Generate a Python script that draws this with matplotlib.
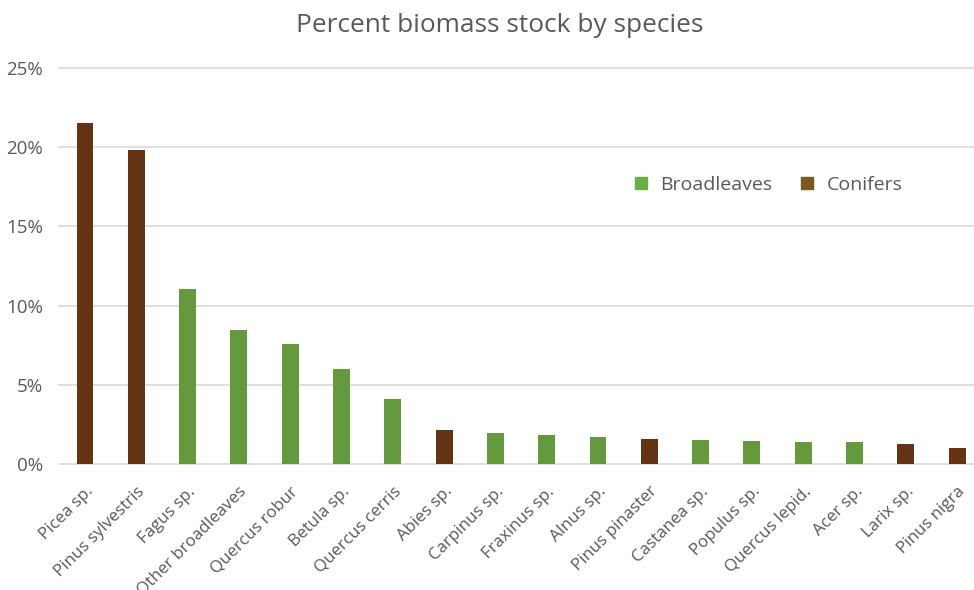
import matplotlib
matplotlib.use("Agg")
import matplotlib.pyplot as plt
from matplotlib.lines import Line2D
from matplotlib.ticker import FuncFormatter

species = ["Picea sp.", "Pinus sylvestris", "Fagus sp.", "Other broadleaves", "Quercus robur",
           "Betula sp.", "Quercus cerris", "Abies sp.", "Carpinus sp.", "Fraxinus sp.",
           "Alnus sp.", "Pinus pinaster", "Castanea sp.", "Populus sp.", "Quercus lepid.",
           "Acer sp.", "Larix sp.", "Pinus nigra"]
percent = [21.5, 19.8, 11.05, 8.46, 7.55, 6.02, 4.12, 2.15, 1.97, 1.86,
           1.70, 1.57, 1.52, 1.46, 1.42, 1.36, 1.29, 1.0]
group = ["C", "C", "B", "B", "B", "B", "B", "C", "B", "B",
         "B", "C", "B", "B", "B", "B", "C", "C"]
yticks = [0, 5, 10, 15, 20, 25]

BROWN = "#643314"
GREEN = "#65993D"
LEG_GREEN = "#6AAD45"
LEG_BROWN = "#7B5A22"
TXT = "#595959"

plt.rcParams['font.family'] = ['Open Sans', 'DejaVu Sans']

fig = plt.figure(figsize=(9.74, 5.90), dpi=100)
W, H = 974, 590
ax = fig.add_axes([59.35 / W, 1 - 464 / H, (974 - 59.35) / W, (464 - 68) / H])

colors = [BROWN if g == "C" else GREEN for g in group]
x = list(range(len(species)))
ax.bar(x, percent, width=0.33, color=colors, zorder=3)

ax.set_xlim(-0.5, -0.5 + (974 - 59.35) / 51.3)
ax.set_ylim(0, 25)
ax.set_yticks(yticks)
ax.yaxis.set_major_formatter(FuncFormatter(lambda v, p: f"{int(v)}%"))
ax.grid(axis="y", color="#D9D9D9", linewidth=1.2, zorder=0)
for gl in ax.get_ygridlines():
    gl.set_clip_on(False)
for s in ax.spines.values():
    s.set_visible(False)
ax.tick_params(axis="both", length=0, colors=TXT)
ax.tick_params(axis="y", pad=12, labelsize=13.5)
ax.set_xticks(x)
ax.set_xticklabels(species, rotation=45, ha="right", rotation_mode="anchor")
ax.tick_params(axis="x", pad=14, labelsize=12.2)
for t in ax.get_yticklabels():
    t.set_color(TXT)
for t in ax.get_xticklabels():
    t.set_color(TXT)

fig.text(500 / W, 1 - 25 / H, "Percent biomass stock by species", ha="center", va="center",
         fontsize=18.9, color=TXT)

handles = [Line2D([], [], marker="s", linestyle="none", markersize=8.5, color=LEG_GREEN),
           Line2D([], [], marker="s", linestyle="none", markersize=8.5, color=LEG_BROWN)]
fig.legend(handles, ["Broadleaves", "Conifers"], loc="center", ncol=2,
           bbox_to_anchor=(767 / W, 1 - 185 / H), frameon=False, fontsize=14,
           labelcolor=TXT, handletextpad=0.5, columnspacing=1.3, handlelength=1.0)

fig.savefig("out.png", dpi=100, facecolor="white")
